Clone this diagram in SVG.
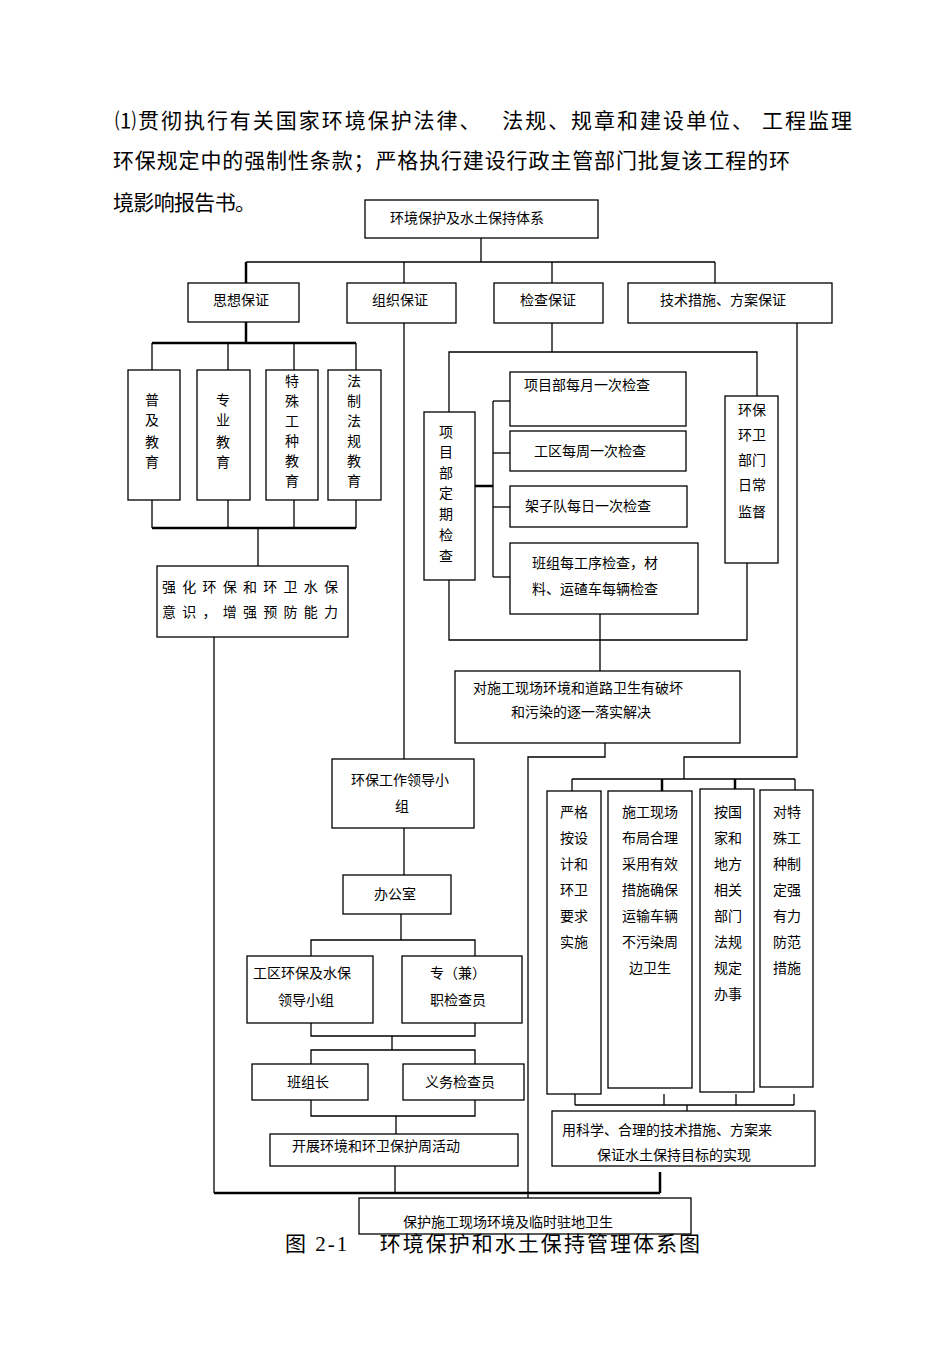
<svg xmlns="http://www.w3.org/2000/svg" width="950" height="1345" viewBox="0 0 950 1345">
<style>
text{font-family:"Liberation Serif","Noto Sans CJK SC",serif;fill:#000}
.t{font-size:14px}
.h{font-size:21px}
.c{text-anchor:middle}
rect{fill:#fff;stroke:#000;stroke-width:1.3}
#conn line,#conn polyline{stroke:#000;stroke-width:1.3;fill:none}
#conn .k{stroke-width:2.5}
</style>
<rect x="0" y="0" width="950" height="1345" style="stroke:none"/>
<text class="h" x="115" y="128" textLength="737" lengthAdjust="spacing">⑴贯彻执行有关国家环境保护法律、　  法规、规章和建设单位、  工程监理</text>
<text class="h" x="113" y="168" textLength="677" lengthAdjust="spacing">环保规定中的强制性条款；严格执行建设行政主管部门批复该工程的环</text>
<text class="h" x="113" y="210" textLength="143" lengthAdjust="spacing">境影响报告书。</text>
<g id="conn">
<line x1="481" y1="238" x2="481" y2="262"/>
<line x1="246" y1="262" x2="715" y2="262"/>
<line class="k" x1="246" y1="262" x2="246" y2="283"/>
<line x1="404" y1="262" x2="404" y2="283"/>
<line x1="552" y1="262" x2="552" y2="283"/>
<line x1="715" y1="262" x2="715" y2="283"/>
<line class="k" x1="246" y1="322" x2="246" y2="343"/>
<line class="k" x1="152" y1="343" x2="356" y2="343"/>
<line x1="152" y1="343" x2="152" y2="370"/><line x1="228" y1="343" x2="228" y2="370"/>
<line x1="294" y1="343" x2="294" y2="370"/><line x1="356" y1="343" x2="356" y2="370"/>
<line x1="152" y1="500" x2="152" y2="528"/><line x1="228" y1="500" x2="228" y2="528"/>
<line x1="294" y1="500" x2="294" y2="528"/><line x1="356" y1="500" x2="356" y2="528"/>
<line class="k" x1="152" y1="528" x2="356" y2="528"/>
<line x1="258" y1="528" x2="258" y2="566"/>
<line x1="214" y1="637" x2="214" y2="1193"/>
<line x1="404" y1="323" x2="404" y2="759"/>
<line x1="552" y1="323" x2="552" y2="352"/>
<polyline points="449,412 449,352 757,352 757,396"/>
<polyline points="449,580 449,640 747,640 747,563"/>
<line class="k" x1="475" y1="486" x2="493" y2="486"/>
<line x1="493" y1="401" x2="493" y2="577"/>
<line x1="493" y1="401" x2="510" y2="401"/><line x1="493" y1="453" x2="510" y2="453"/>
<line x1="493" y1="507" x2="510" y2="507"/><line x1="493" y1="577" x2="510" y2="577"/>
<line x1="600" y1="614" x2="600" y2="671"/>
<polyline points="605,743 605,757 528,757 528,1205"/>
<polyline points="797,323 797,757 684,757 684,779"/>
<line x1="572" y1="779" x2="795" y2="779"/>
<line x1="572" y1="779" x2="572" y2="791"/><line class="k" x1="662" y1="779" x2="662" y2="791"/>
<line class="k" x1="735" y1="779" x2="735" y2="791"/><line x1="795" y1="779" x2="795" y2="791"/>
<line x1="575" y1="1094" x2="575" y2="1105"/><line x1="664" y1="1094" x2="664" y2="1105"/>
<line x1="736" y1="1094" x2="736" y2="1105"/><line x1="794" y1="1094" x2="794" y2="1105"/>
<line x1="575" y1="1105" x2="794" y2="1105"/>
<line x1="687" y1="1105" x2="687" y2="1117"/>
<line class="k" x1="660" y1="1172" x2="660" y2="1193"/>
<line class="k" x1="214" y1="1193" x2="660" y2="1193"/>
<line x1="404" y1="828" x2="404" y2="875"/>
<line x1="401" y1="914" x2="401" y2="940"/>
<polyline points="311,956 311,940 475,940 475,956"/>
<polyline points="311,1023 311,1036 475,1036 475,1023"/>
<line x1="392" y1="1036" x2="392" y2="1050"/>
<polyline points="311,1064 311,1050 475,1050 475,1064"/>
<polyline points="311,1100 311,1116 475,1116 475,1100"/>
<line x1="396" y1="1116" x2="396" y2="1134"/>
<line x1="395" y1="1166" x2="395" y2="1193"/>
</g>
<g id="n-top"><rect x="365" y="200" width="233" height="38"/><text class="t" x="390" y="223">环境保护及水土保持体系</text></g>
<g id="n-sx"><rect x="188" y="283" width="111" height="39"/><text class="t c" x="241" y="305">思想保证</text></g>
<g id="n-zz"><rect x="347" y="283" width="109" height="40"/><text class="t c" x="400" y="305">组织保证</text></g>
<g id="n-jc"><rect x="494" y="283" width="109" height="40"/><text class="t c" x="548" y="305">检查保证</text></g>
<g id="n-js"><rect x="628" y="283" width="204" height="40"/><text class="t c" x="723" y="305">技术措施、方案保证</text></g>
<g id="n-pj"><rect x="128" y="370" width="52" height="130"/><text class="t c" x="152" y="405">普</text><text class="t c" x="152" y="425">及</text><text class="t c" x="152" y="447">教</text><text class="t c" x="152" y="467">育</text></g>
<g id="n-zy"><rect x="197" y="370" width="53" height="130"/><text class="t c" x="223" y="405">专</text><text class="t c" x="223" y="425">业</text><text class="t c" x="223" y="447">教</text><text class="t c" x="223" y="467">育</text></g>
<g id="n-ts"><rect x="266" y="370" width="52" height="130"/><text class="t c" x="292" y="386">特</text><text class="t c" x="292" y="406">殊</text><text class="t c" x="292" y="426">工</text><text class="t c" x="292" y="446">种</text><text class="t c" x="292" y="466">教</text><text class="t c" x="292" y="486">育</text></g>
<g id="n-fz"><rect x="328" y="370" width="53" height="130"/><text class="t c" x="354" y="386">法</text><text class="t c" x="354" y="406">制</text><text class="t c" x="354" y="426">法</text><text class="t c" x="354" y="446">规</text><text class="t c" x="354" y="466">教</text><text class="t c" x="354" y="486">育</text></g>
<g id="n-qh"><rect x="157" y="566" width="191" height="71"/><text class="t" x="162" y="592" textLength="176">强化环保和环卫水保</text><text class="t" x="162" y="617" textLength="176">意识，增强预防能力</text></g>
<g id="n-xmd"><rect x="424" y="412" width="51" height="168"/><text class="t c" x="446" y="437">项</text><text class="t c" x="446" y="457">目</text><text class="t c" x="446" y="478">部</text><text class="t c" x="446" y="498">定</text><text class="t c" x="446" y="519">期</text><text class="t c" x="446" y="540">检</text><text class="t c" x="446" y="561">查</text></g>
<g id="n-m"><rect x="510" y="372" width="176" height="54"/><text class="t" x="524" y="390">项目部每月一次检查</text></g>
<g id="n-w"><rect x="510" y="431" width="176" height="40"/><text class="t" x="534" y="456">工区每周一次检查</text></g>
<g id="n-d"><rect x="510" y="486" width="177" height="41"/><text class="t" x="525" y="511">架子队每日一次检查</text></g>
<g id="n-bz"><rect x="510" y="543" width="188" height="71"/><text class="t" x="532" y="568">班组每工序检查，材</text><text class="t" x="532" y="594">料、运碴车每辆检查</text></g>
<g id="n-hb"><rect x="725" y="396" width="53" height="167"/><text class="t c" x="752" y="415">环保</text><text class="t c" x="752" y="440">环卫</text><text class="t c" x="752" y="465">部门</text><text class="t c" x="752" y="490">日常</text><text class="t c" x="752" y="517">监督</text></g>
<g id="n-dsg"><rect x="455" y="671" width="285" height="72"/><text class="t" x="473" y="693">对施工现场环境和道路卫生有破坏</text><text class="t" x="511" y="717">和污染的逐一落实解决</text></g>
<g id="n-ld"><rect x="332" y="759" width="142" height="69"/><text class="t c" x="400" y="785">环保工作领导小</text><text class="t c" x="402" y="811">组</text></g>
<g id="n-bgs"><rect x="343" y="875" width="108" height="39"/><text class="t c" x="395" y="899">办公室</text></g>
<g id="n-gq"><rect x="247" y="956" width="126" height="67"/><text class="t" x="253" y="978">工区环保及水保</text><text class="t" x="278" y="1005">领导小组</text></g>
<g id="n-zj"><rect x="402" y="956" width="120" height="67"/><text class="t" x="430" y="978">专（兼）</text><text class="t" x="430" y="1005">职检查员</text></g>
<g id="n-bzz"><rect x="252" y="1064" width="116" height="36"/><text class="t c" x="308" y="1087">班组长</text></g>
<g id="n-yw"><rect x="403" y="1064" width="121" height="36"/><text class="t c" x="460" y="1087">义务检查员</text></g>
<g id="n-kz"><rect x="270" y="1134" width="248" height="32"/><text class="t" x="292" y="1151">开展环境和环卫保护周活动</text></g>
<g id="n-yg"><rect x="547" y="791" width="54" height="303"/><text class="t c" x="574" y="817">严格</text><text class="t c" x="574" y="843">按设</text><text class="t c" x="574" y="869">计和</text><text class="t c" x="574" y="895">环卫</text><text class="t c" x="574" y="921">要求</text><text class="t c" x="574" y="947">实施</text></g>
<g id="n-sg"><rect x="608" y="791" width="84" height="297"/><text class="t c" x="650" y="817">施工现场</text><text class="t c" x="650" y="843">布局合理</text><text class="t c" x="650" y="869">采用有效</text><text class="t c" x="650" y="895">措施确保</text><text class="t c" x="650" y="921">运输车辆</text><text class="t c" x="650" y="947">不污染周</text><text class="t c" x="650" y="973">边卫生</text></g>
<g id="n-ag"><rect x="700" y="789" width="54" height="303"/><text class="t c" x="728" y="817">按国</text><text class="t c" x="728" y="843">家和</text><text class="t c" x="728" y="869">地方</text><text class="t c" x="728" y="895">相关</text><text class="t c" x="728" y="921">部门</text><text class="t c" x="728" y="947">法规</text><text class="t c" x="728" y="973">规定</text><text class="t c" x="728" y="999">办事</text></g>
<g id="n-dt"><rect x="760" y="790" width="53" height="297"/><text class="t c" x="787" y="817">对特</text><text class="t c" x="787" y="843">殊工</text><text class="t c" x="787" y="869">种制</text><text class="t c" x="787" y="895">定强</text><text class="t c" x="787" y="921">有力</text><text class="t c" x="787" y="947">防范</text><text class="t c" x="787" y="973">措施</text></g>
<g id="n-ykx"><rect x="552" y="1111" width="263" height="55"/><text class="t" x="562" y="1135">用科学、合理的技术措施、方案来</text><text class="t" x="597" y="1160">保证水土保持目标的实现</text></g>
<g id="n-bh"><rect x="359" y="1198" width="332" height="36"/><text class="t" x="403" y="1227">保护施工现场环境及临时驻地卫生</text></g>
<text class="h" x="285" y="1251" textLength="415" lengthAdjust="spacing">图 2-1　  环境保护和水土保持管理体系图</text>
</svg>
